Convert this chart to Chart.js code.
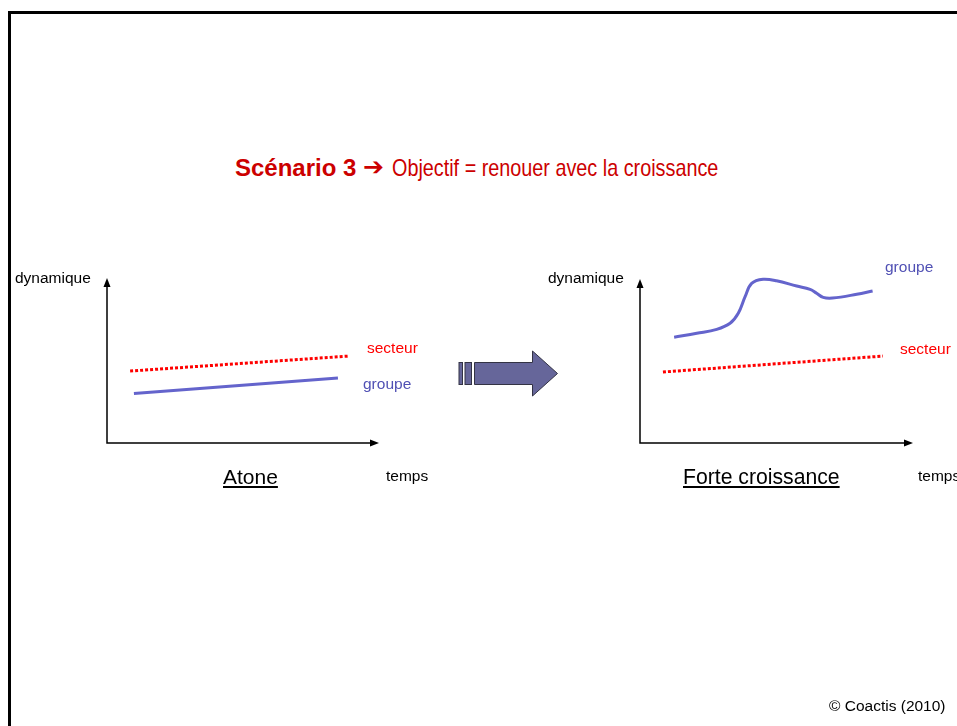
<!DOCTYPE html>
<html>
<head>
<meta charset="utf-8">
<script src="https://cdn.jsdelivr.net/npm/chart.js@4/dist/chart.umd.min.js"></script>
<style>
  html,body{margin:0;padding:0;background:#fff;width:957px;height:726px;overflow:hidden;}
  body{position:relative;font-family:"Liberation Sans",Arial,sans-serif;}
  .frame{position:absolute;left:8px;top:11px;width:2000px;height:2000px;border-left:3px solid #000;border-top:3px solid #000;}
  .t{position:absolute;white-space:nowrap;line-height:1;}
  canvas{position:absolute;}
</style>
</head>
<body>
<div class="frame"></div>

<div class="t" id="title" style="left:235px;top:155px;color:#CC0000;font-size:24px;">
  <span style="font-weight:bold;">Scénario 3</span>
  <span style="font-family:'DejaVu Sans',sans-serif;font-weight:bold;font-size:25px;position:relative;top:-1px;margin-left:0px;">➔</span>
  <span id="obj" style="display:inline-block;transform:scaleX(0.825);transform-origin:0 50%;margin-left:1px;">Objectif = renouer avec la croissance</span>
</div>

<canvas id="c1" width="292" height="185" style="left:97px;top:268px;"></canvas>
<canvas id="c2" width="293" height="184" style="left:630px;top:269px;"></canvas>

<svg width="957" height="726" style="position:absolute;left:0;top:0;pointer-events:none;">
  <g fill="#66669A" stroke="#333344" stroke-width="1">
    <rect x="459" y="362.5" width="3.5" height="22"/>
    <rect x="465" y="362.5" width="6.5" height="22"/>
    <polygon points="474.5,362.5 532.5,362.5 532.5,351 557.5,373.5 532.5,396 532.5,384.5 474.5,384.5"/>
  </g>
</svg>

<div id="labels"></div>
<div class="t" style="left:829px;top:698px;font-size:15.5px;color:#000;">© Coactis (2010)</div>

<script>
// ---- data ----
const panelTitles = ['Atone', 'Forte croissance'];
const seriesNames = ['secteur', 'groupe'];
const axisNames = ['dynamique', 'temps'];

// Panel 1 : Atone
const atoneSecteurX = [0.85, 8.9];
const atoneSecteurY = [4.36, 5.27];
const atoneGroupeX = [0.99, 8.49];
const atoneGroupeY = [3.0, 3.94];

// Panel 2 : Forte croissance
const forteSecteurX = [0.84, 8.9];
const forteSecteurY = [4.33, 5.3];
const forteGroupeX = [1.25, 2.08, 2.81, 3.30, 3.60, 3.85, 4.09, 4.51, 5.00, 5.74, 6.23, 6.47, 6.71, 7.05, 7.94, 8.52];
const forteGroupeY = [6.45, 6.69, 6.93, 7.30, 7.91, 8.92, 9.73, 9.98, 9.89, 9.57, 9.37, 9.13, 8.88, 8.84, 9.07, 9.27];

const pts = (xs, ys) => xs.map((x, i) => ({x: x, y: ys[i]}));

const axesPlugin = {
  id: 'arrowAxes',
  afterDraw(chart) {
    const {ctx, chartArea: a} = chart;
    ctx.save();
    ctx.strokeStyle = '#000'; ctx.fillStyle = '#000'; ctx.lineWidth = 1.5;
    ctx.beginPath();
    ctx.moveTo(a.left, a.top + 6); ctx.lineTo(a.left, a.bottom);
    ctx.lineTo(a.right - 6, a.bottom);
    ctx.stroke();
    // right arrowhead
    ctx.beginPath();
    ctx.moveTo(a.right, a.bottom); ctx.lineTo(a.right - 9, a.bottom - 3.5); ctx.lineTo(a.right - 9, a.bottom + 3.5); ctx.closePath(); ctx.fill();
    // top arrowhead
    ctx.beginPath();
    ctx.moveTo(a.left, a.top); ctx.lineTo(a.left - 3.5, a.top + 9); ctx.lineTo(a.left + 3.5, a.top + 9); ctx.closePath(); ctx.fill();
    ctx.restore();
  }
};

function makeChart(id, secX, secY, grpX, grpY) {
  return new Chart(document.getElementById(id), {
    type: 'line',
    data: {
      datasets: [
        {label: seriesNames[0], data: pts(secX, secY), borderColor: '#FF0000', borderWidth: 3,
         borderDash: [3, 2], borderCapStyle: 'butt', pointRadius: 0, tension: 0, fill: false},
        {label: seriesNames[1], data: pts(grpX, grpY), borderColor: '#6464CC', borderWidth: 3,
         pointRadius: 0, tension: 0.4, fill: false}
      ]
    },
    options: {
      responsive: false, animation: false, clip: false,
      layout: {padding: 10},
      plugins: {legend: {display: false}, tooltip: {enabled: false}, title: {display: false}},
      scales: {
        x: {type: 'linear', min: 0, max: 10, display: false},
        y: {type: 'linear', min: 0, max: 10, display: false}
      }
    },
    plugins: [axesPlugin]
  });
}

makeChart('c1', atoneSecteurX, atoneSecteurY, atoneGroupeX, atoneGroupeY);
makeChart('c2', forteSecteurX, forteSecteurY, forteGroupeX, forteGroupeY);

// ---- text labels ----
const labelSpecs = [
  {text: axisNames[0], x: 15, base: 284, size: 15.5, color: '#000'},
  {text: axisNames[1], x: 386, base: 482, size: 15.5, color: '#000'},
  {text: seriesNames[0], x: 367, base: 354, size: 15.5, color: '#FF0000'},
  {text: seriesNames[1], x: 363, base: 390, size: 15.5, color: '#5050B4'},
  {text: panelTitles[0], x: 223, base: 485, size: 21, color: '#000', u: true},
  {text: axisNames[0], x: 548, base: 284, size: 15.5, color: '#000'},
  {text: axisNames[1], x: 918, base: 482, size: 15.5, color: '#000'},
  {text: seriesNames[1], x: 885, base: 273, size: 15.5, color: '#5050B4'},
  {text: seriesNames[0], x: 900, base: 355, size: 15.5, color: '#FF0000'},
  {text: panelTitles[1], x: 683, base: 485, size: 21.2, color: '#000', u: true}
];
const host = document.getElementById('labels');
labelSpecs.forEach(s => {
  const d = document.createElement('div');
  d.className = 't';
  d.textContent = s.text;
  d.style.left = s.x + 'px';
  d.style.top = (s.base - s.size * 0.905) + 'px';
  d.style.fontSize = s.size + 'px';
  d.style.color = s.color;
  if (s.u) { d.style.textDecoration = 'underline'; d.style.textUnderlineOffset = '2px'; }
  host.appendChild(d);
});
</script>
</body>
</html>
